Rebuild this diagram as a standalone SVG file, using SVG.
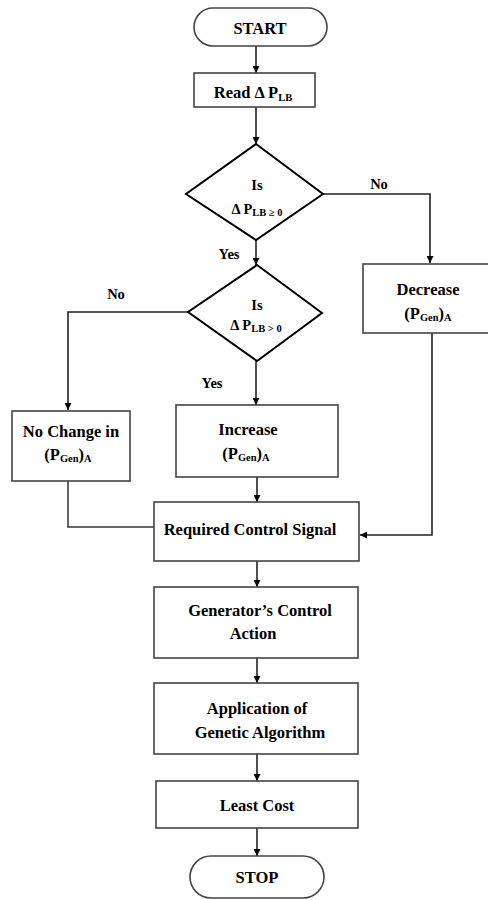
<svg xmlns="http://www.w3.org/2000/svg" width="488" height="900" viewBox="0 0 488 900">
<defs>
<marker id="ah" viewBox="0 0 10 10" refX="10" refY="5" markerWidth="7" markerHeight="7" markerUnits="userSpaceOnUse" orient="auto">
<path d="M0,0 L10,5 L0,10 z" fill="#000"/>
</marker>
<style>
.box{fill:#fff;stroke:#444;stroke-width:1.6}
.dia{fill:#fff;stroke:#000;stroke-width:2}
.t{font-family:"Liberation Serif","Times New Roman",serif;font-weight:bold;font-size:16.5px;fill:#000;text-anchor:middle}
.s{font-size:14.5px}
.l{font-size:14.5px}
.sub{font-size:10.5px}
.c{fill:none;stroke:#333;stroke-width:1.5}
.ca{fill:none;stroke:#222;stroke-width:1.6;marker-end:url(#ah)}
</style>
</defs>
<rect width="488" height="900" fill="#fff"/>
<g id="connectors">
<path class="ca" d="M256,46 V73"/>
<path class="ca" d="M256,107 V144"/>
<path class="ca" d="M323,194 H430 V263"/>
<path class="ca" d="M256,240 V265"/>
<path class="ca" d="M188,312 H68 V410"/>
<path class="ca" d="M256,361 V405"/>
<path class="ca" d="M432,333 V535 H360"/>
<path class="c" d="M68,481 V527 H154"/>
<path class="ca" d="M257,477 V502"/>
<path class="ca" d="M257,561 V587"/>
<path class="ca" d="M257,658 V683"/>
<path class="ca" d="M257,754 V781"/>
<path class="ca" d="M257,828 V856"/>
</g>
<g id="start">
<rect class="box" x="194" y="8" width="133" height="38" rx="19"/>
<text class="t" x="260" y="34">START</text>
</g>
<g id="read">
<rect class="box" x="194" y="73" width="121" height="34"/>
<text class="t" x="253" y="98">Read Δ P<tspan class="sub" dy="3">LB</tspan></text>
</g>
<g id="decision1">
<polygon class="dia" points="256,144 323,194 256,240 186,194"/>
<text class="t s" x="257" y="190">Is</text>
<text class="t s" x="257" y="214">Δ P<tspan class="sub" dy="2">LB ≥ 0</tspan></text>
</g>
<g id="decision2">
<polygon class="dia" points="257,265 322,313 257,361 188,312"/>
<text class="t s" x="257" y="310">Is</text>
<text class="t s" x="256" y="330">Δ P<tspan class="sub" dy="2">LB &gt; 0</tspan></text>
</g>
<g id="labels">
<text class="t l" x="379" y="189">No</text>
<text class="t l" x="229" y="259">Yes</text>
<text class="t l" x="116" y="299">No</text>
<text class="t l" x="212" y="388">Yes</text>
</g>
<g id="decrease">
<rect class="box" x="363" y="264" width="126" height="69"/>
<text class="t" x="428" y="295">Decrease</text>
<text class="t" x="428" y="319">(P<tspan class="sub" dy="2">Gen</tspan><tspan dy="-2">)</tspan><tspan class="sub" dy="2">A</tspan></text>
</g>
<g id="nochange">
<rect class="box" x="12" y="411" width="118" height="70"/>
<text class="t" x="71" y="437">No Change in</text>
<text class="t" x="68" y="460">(P<tspan class="sub" dy="2">Gen</tspan><tspan dy="-2">)</tspan><tspan class="sub" dy="2">A</tspan></text>
</g>
<g id="increase">
<rect class="box" x="176" y="405" width="162" height="72"/>
<text class="t" x="248" y="435">Increase</text>
<text class="t" x="246" y="459">(P<tspan class="sub" dy="2">Gen</tspan><tspan dy="-2">)</tspan><tspan class="sub" dy="2">A</tspan></text>
</g>
<g id="required">
<rect class="box" x="154" y="502" width="205" height="59"/>
<text class="t" x="250" y="535">Required Control Signal</text>
</g>
<g id="generator">
<rect class="box" x="154" y="587" width="204" height="71"/>
<text class="t" x="260" y="616">Generator’s Control</text>
<text class="t" x="253" y="639">Action</text>
</g>
<g id="application">
<rect class="box" x="154" y="683" width="204" height="71"/>
<text class="t" x="257" y="714">Application of</text>
<text class="t" x="260" y="738">Genetic Algorithm</text>
</g>
<g id="leastcost">
<rect class="box" x="156" y="781" width="202" height="47"/>
<text class="t" x="257" y="811">Least Cost</text>
</g>
<g id="stop">
<rect class="box" x="190" y="856" width="134" height="42" rx="21"/>
<text class="t" x="257" y="883">STOP</text>
</g>
</svg>
